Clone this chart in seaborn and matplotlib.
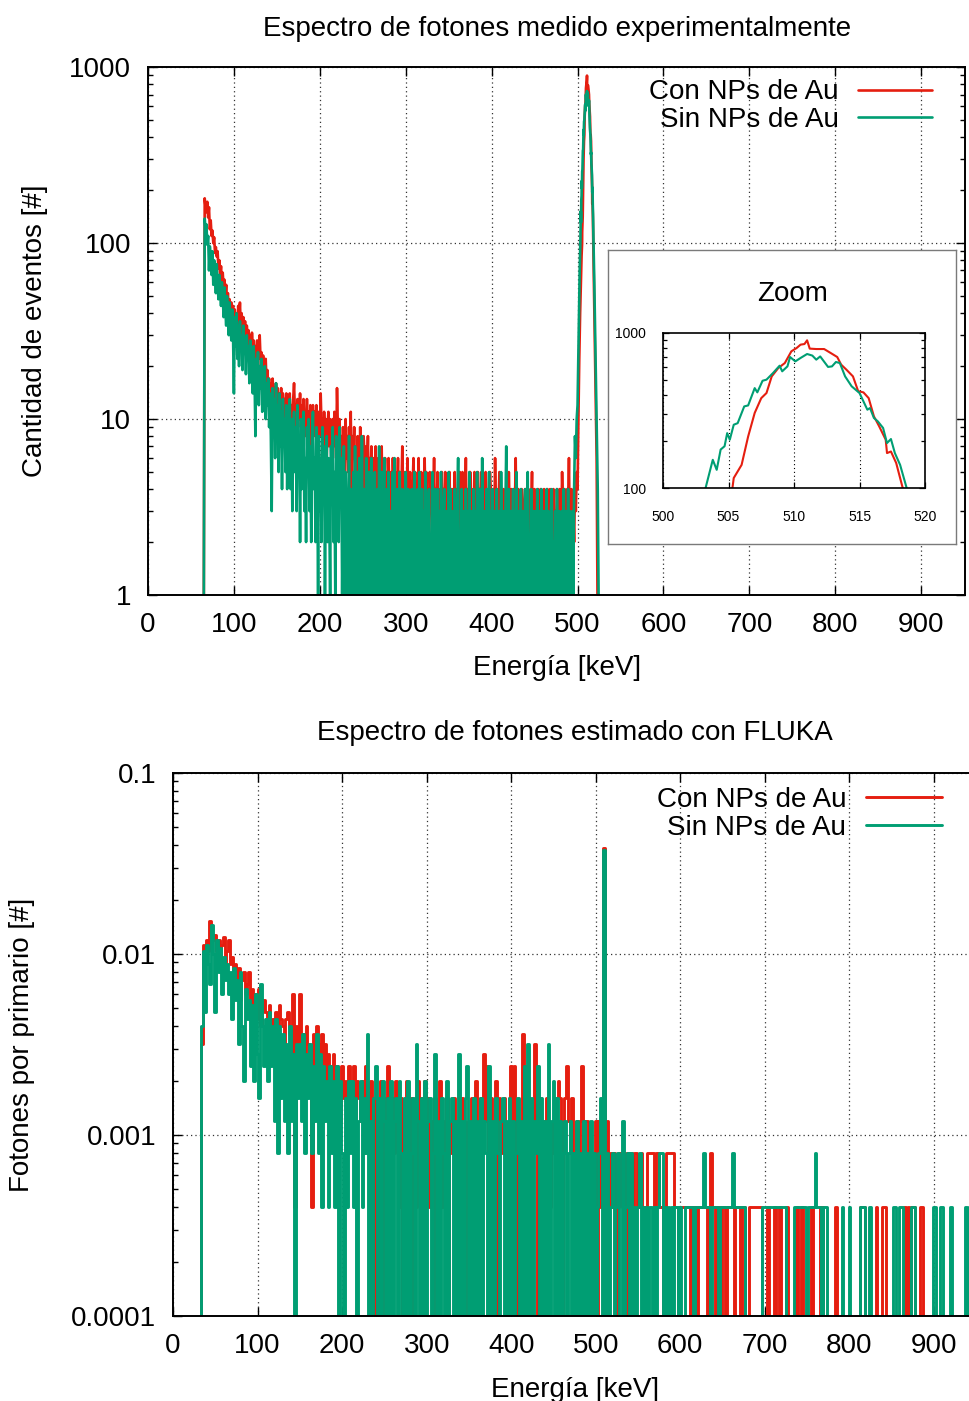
import numpy as np
import pandas as pd
import matplotlib
matplotlib.use("Agg")
import matplotlib.pyplot as plt
import seaborn as sns
from matplotlib.ticker import LogLocator, NullFormatter, NullLocator, FixedFormatter, FixedLocator

sns.set_style("white")
plt.rcParams["font.family"] = ["Liberation Sans", "DejaVu Sans"]
for k in ["text.color", "axes.labelcolor", "xtick.color", "ytick.color", "axes.edgecolor"]:
    plt.rcParams[k] = "black"

ROJO = "#e51e10"
VERDE = "#009e73"
ETQ_CON = "Con NPs de Au"
ETQ_SIN = "Sin NPs de Au"

# ---------------- Espectro experimental (cuentas, bins de 1 keV desde 65 keV) ----------------
exp_e_inicio = 65
exp_con = [
    1, 180, 160, 150, 172, 140, 160, 120, 135, 110,
    118, 100, 108, 88, 95, 84, 90, 72, 80, 66,
    74, 60, 68, 56, 62, 50, 58, 46, 52, 42,
    48, 40, 46, 36, 44, 34, 42, 32, 40, 30,
    44, 36, 46, 34, 40, 30, 38, 32, 36, 28,
    34, 30, 32, 26, 30, 24, 31, 26, 28, 22,
    26, 22, 28, 20, 25, 30, 22, 24, 19, 23,
    20, 18, 22, 16, 19, 15, 17, 14, 16, 12,
    17, 14, 15, 12, 16, 13, 15, 11, 14, 12,
    15, 10, 14, 12, 13, 9, 14, 11, 12, 10,
    14, 9, 12, 10, 13, 16, 11, 12, 9, 13,
    12, 10, 14, 9, 12, 8, 13, 10, 11, 8,
    13, 9, 11, 7, 12, 10, 9, 12, 8, 11,
    9, 12, 10, 7, 11, 8, 14, 9, 10, 7,
    11, 8, 10, 6, 9, 11, 7, 10, 8, 9,
    10, 7, 11, 8, 6, 15, 9, 7, 10, 6,
    8, 5, 9, 7, 4, 10, 6, 8, 5, 9,
    7, 11, 4, 8, 6, 9, 5, 7, 3, 8,
    6, 4, 9, 5, 7, 3, 8, 6, 4, 7,
    5, 8, 3, 6, 4, 7, 5, 2, 6, 4,
    7, 3, 5, 6, 2, 5, 4, 7, 3, 5,
    4, 6, 2, 5, 3, 6, 4, 2, 5, 3,
    6, 4, 3, 5, 2, 4, 6, 3, 5, 2,
    4, 7, 3, 5, 2, 4, 3, 6, 2, 4,
    5, 3, 2, 4, 6, 3, 5, 2, 4, 3,
    6, 2, 4, 5, 3, 2, 4, 6, 3, 5,
    3, 4, 2, 5, 3, 4, 2, 3, 6, 2,
    4, 3, 5, 2, 4, 3, 2, 5, 3, 4,
    2, 5, 3, 4, 2, 3, 5, 2, 4, 3,
    4, 2, 5, 3, 4, 2, 3, 4, 5, 2,
    3, 5, 2, 4, 3, 6, 2, 4, 3, 2,
    5, 3, 4, 2, 3, 5, 2, 4, 3, 5,
    2, 4, 3, 5, 2, 3, 4, 2, 5, 3,
    4, 2, 3, 5, 4, 2, 3, 4, 2, 6,
    3, 4, 2, 3, 5, 2, 4, 3, 2, 4,
    3, 2, 4, 3, 2, 5, 3, 2, 4, 3,
    2, 4, 3, 6, 2, 3, 4, 2, 3, 2,
    4, 3, 2, 3, 4, 2, 3, 2, 4, 3,
    2, 3, 5, 2, 3, 4, 2, 3, 2, 4,
    3, 2, 4, 3, 2, 3, 4, 2, 3, 2,
    4, 3, 2, 4, 3, 2, 3, 4, 2, 3,
    2, 4, 3, 2, 4, 3, 2, 5, 3, 2,
    4, 3, 2, 4, 3, 6, 2, 3, 4, 2,
    3, 2, 4, 3, 5,
]
exp_sin = [
    1, 138, 120, 128, 98, 110, 70, 96, 84, 66,
    90, 58, 80, 70, 52, 76, 60, 48, 66, 54,
    44, 60, 50, 38, 56, 42, 34, 50, 38, 30,
    46, 34, 28, 42, 30, 14, 38, 26, 40, 22,
    34, 20, 36, 26, 30, 19, 34, 24, 28, 18,
    30, 22, 26, 16, 28, 20, 24, 14, 26, 18,
    8, 22, 16, 24, 12, 20, 15, 22, 11, 18,
    14, 20, 10, 16, 12, 17, 9, 14, 8, 3,
    15, 10, 13, 6, 16, 9, 12, 5, 14, 7,
    11, 4, 13, 8, 10, 5, 12, 4, 9, 6,
    13, 4, 10, 3, 8, 11, 5, 9, 3, 12,
    6, 8, 2, 10, 4, 7, 11, 3, 6, 2,
    9, 5, 10, 3, 7, 2, 8, 11, 4, 6,
    2, 9, 5, 1, 8, 3, 6, 2, 9, 4,
    7, 1, 5, 8, 2, 6, 3, 1, 7, 4,
    9, 2, 5, 1, 8, 3, 6, 2, 9, 4,
    6, 1, 4, 7, 1, 5, 3, 1, 2, 8,
    1, 4, 2, 1, 5, 1, 7, 1, 3, 5,
    1, 6, 2, 1, 8, 1, 4, 3, 1, 6,
    2, 1, 5, 1, 3, 6, 1, 4, 1, 5,
    1, 3, 4, 1, 7, 2, 1, 5, 1, 3,
    6, 1, 2, 4, 1, 5, 1, 3, 2, 1,
    5, 1, 6, 2, 1, 4, 1, 3, 5, 1,
    2, 4, 1, 3, 1, 5, 2, 1, 4, 1,
    3, 1, 4, 2, 1, 5, 1, 3, 1, 4,
    1, 5, 2, 1, 4, 1, 3, 1, 5, 2,
    1, 3, 4, 1, 2, 1, 5, 1, 3, 4,
    1, 2, 4, 1, 3, 1, 5, 2, 1, 3,
    4, 1, 2, 3, 1, 5, 1, 4, 1, 2,
    3, 1, 4, 2, 1, 3, 6, 1, 2, 1,
    4, 1, 3, 2, 1, 4, 1, 3, 1, 5,
    1, 3, 2, 1, 4, 1, 3, 1, 5, 2,
    1, 4, 3, 1, 6, 1, 2, 3, 1, 4,
    1, 2, 5, 1, 3, 1, 4, 2, 1, 3,
    1, 4, 2, 1, 3, 1, 5, 2, 1, 3,
    1, 3, 7, 1, 2, 4, 1, 3, 1, 2,
    4, 1, 3, 1, 5, 2, 1, 3, 1, 4,
    1, 3, 2, 1, 4, 1, 3, 5, 1, 2,
    1, 4, 2, 1, 3, 1, 3, 1, 4, 2,
    1, 3, 1, 4, 2, 1, 3, 1, 2, 4,
    1, 3, 2, 1, 3, 4, 1, 2, 1, 3,
    1, 4, 2, 1, 3, 1, 2, 3, 1, 4,
    1, 3, 2, 1, 4, 1, 3, 1, 2, 3,
    1, 4, 8, 6, 10,
]
# pico de aniquilacion (511 keV), energias en keV y cuentas
pico_con_e = [500, 501, 502, 503, 504, 504.7, 505.3, 505.4, 506.0, 506.5,
              507.0, 507.5, 507.9, 508.3, 508.8, 509.3, 509.8, 510.2, 510.5, 510.8,
              511.0, 511.2, 511.7, 512.3, 512.8, 513.3, 513.6, 514.0, 514.5, 514.9,
              515.3, 515.7, 516.1, 516.5, 517.0, 517.1, 517.4, 517.8, 518.3, 519.2,
              520.2, 521.2, 522.2, 523.2]
pico_con = [4, 10, 22, 40, 62, 85, 100, 116, 141, 215,
            305, 380, 410, 525, 594, 640, 762, 800, 841, 849,
            897, 793, 788, 788, 743, 700, 625, 580, 525, 421,
            414, 380, 290, 250, 205, 168, 172, 145, 100, 55,
            25, 12, 6, 1]
pico_sin_e = [500, 501, 502, 502.5, 503, 503.25, 503.8, 504.1, 504.4, 504.7,
              504.9, 505.1, 505.4, 505.7, 506.2, 506.5, 507.0, 507.2, 507.6, 507.9,
              508.4, 508.9, 509.1, 509.5, 509.7, 510.1, 510.5, 511.0, 511.4, 511.7,
              512.0, 512.6, 512.9, 513.2, 513.5, 513.9, 514.4, 515.0, 515.6, 515.8,
              516.1, 516.4, 516.8, 517.1, 517.4, 517.7, 518.1, 518.6, 519.5, 520.5,
              521.5, 522.5, 523.5, 524.5]
pico_sin = [12, 25, 50, 70, 90, 100, 152, 131, 177, 186,
            226, 205, 256, 262, 336, 341, 441, 414, 492, 500,
            552, 615, 566, 609, 700, 656, 690, 732, 715, 673,
            706, 604, 609, 650, 640, 525, 453, 410, 320, 328,
            283, 269, 244, 195, 207, 168, 141, 100, 60, 30,
            14, 8, 4, 1]

# ---------------- Espectro FLUKA (cuentas; bins de 2 keV desde 30 keV) ----------------
fluka_e_inicio = 30
fluka_paso = 2
fluka_unidad = 4e-4  # fotones por primario por cuenta
fluka_con = [
    0, 0, 8, 28, 24, 30, 26, 38, 32, 30,
    32, 26, 30, 22, 28, 31, 20, 26, 30, 22,
    24, 18, 22, 16, 21, 14, 18, 20, 15, 17,
    20, 13, 16, 12, 15, 11, 16, 10, 12, 14,
    12, 9, 13, 10, 11, 8, 12, 9, 13, 11,
    10, 8, 11, 12, 9, 7, 15, 1, 10, 8,
    15, 7, 9, 6, 10, 8, 7, 1, 9, 6,
    10, 8, 7, 9, 6, 8, 5, 7, 6, 5,
    7, 4, 6, 5, 3, 6, 4, 5, 2, 6,
    4, 3, 6, 2, 5, 4, 3, 5, 2, 6,
    4, 2, 5, 3, 0, 4, 3, 2, 5, 0,
    2, 4, 6, 0, 3, 4, 2, 5, 3, 1,
    4, 0, 3, 5, 1, 3, 4, 0, 3, 1,
    5, 3, 4, 0, 5, 3, 4, 1, 3, 0,
    4, 2, 0, 5, 1, 3, 2, 4, 0, 3,
    2, 4, 3, 0, 3, 2, 4, 3, 0, 1,
    3, 0, 4, 1, 5, 3, 0, 4, 3, 7,
    3, 6, 0, 4, 1, 3, 5, 0, 4, 3,
    2, 4, 0, 1, 4, 6, 2, 6, 0, 2,
    3, 0, 9, 3, 2, 4, 0, 3, 2, 8,
    3, 0, 4, 1, 3, 2, 4, 0, 1, 2,
    3, 2, 4, 5, 4, 0, 2, 4, 6, 3,
    2, 4, 0, 2, 3, 1, 3, 6, 0, 3,
    3, 2, 0, 1, 2, 3, 0, 3, 1, 2,
    96, 2, 3, 1, 2, 1, 2, 0, 1, 2,
    2, 1, 2, 0, 2, 1, 2, 1, 2, 2,
    1, 1, 2, 0, 1, 1, 2, 2, 2, 2,
    1, 2, 2, 1, 1, 0, 1, 2, 2, 2,
    2, 2, 1, 1, 0, 1, 1, 1, 1, 1,
    1, 0, 1, 1, 1, 0, 1, 1, 1, 1,
    1, 0, 1, 2, 1, 1, 0, 1, 1, 0,
    1, 1, 0, 1, 1, 1, 1, 0, 1, 1,
    1, 0, 1, 1, 0, 0, 1, 1, 1, 1,
    1, 1, 1, 1, 0, 0, 0, 1, 0, 0,
    0, 1, 0, 0, 1, 0, 0, 0, 1, 0,
    0, 0, 0, 0, 1, 0, 0, 1, 0, 0,
    0, 0, 0, 1, 0, 0, 0, 0, 1, 1,
    0, 0, 0, 0, 0, 0, 0, 1, 0, 0,
    0, 0, 0, 0, 0, 0, 0, 0, 0, 0,
    0, 0, 1, 1, 1, 0, 0, 0, 0, 0,
    0, 1, 0, 0, 0, 1, 1, 0, 0, 0,
    0, 0, 0, 0, 0, 0, 0, 0, 1, 0,
    1, 0, 1, 1, 0, 0, 0, 1, 1, 0,
    0, 0, 0, 0, 0, 0, 0, 0, 0, 0,
    0, 0, 0, 0, 0, 0, 0, 0, 0, 0,
    0, 0, 0, 0, 0, 0, 0,
]
fluka_sin = [
    0, 0, 10, 26, 12, 28, 22, 17, 36, 25,
    12, 30, 20, 27, 15, 24, 18, 22, 15, 20,
    11, 21, 14, 18, 8, 20, 10, 5, 16, 11,
    14, 6, 13, 5, 15, 7, 4, 17, 10, 6,
    11, 5, 12, 6, 10, 3, 11, 2, 10, 4,
    9, 3, 8, 2, 10, 3, 7, 0, 8, 4,
    8, 3, 9, 2, 7, 4, 8, 2, 6, 3,
    9, 2, 7, 1, 6, 3, 5, 1, 6, 2,
    5, 1, 6, 0, 5, 2, 0, 4, 1, 5,
    2, 5, 1, 4, 0, 3, 5, 1, 4, 2,
    9, 0, 3, 0, 4, 6, 0, 4, 0, 5,
    3, 0, 4, 0, 5, 0, 3, 4, 0, 5,
    2, 0, 4, 0, 5, 0, 2, 4, 0, 8,
    3, 0, 4, 0, 5, 0, 3, 4, 0, 2,
    7, 0, 3, 0, 4, 2, 0, 5, 0, 3,
    4, 0, 3, 0, 7, 0, 3, 0, 4, 6,
    0, 3, 0, 4, 0, 3, 0, 4, 0, 3,
    2, 0, 6, 0, 3, 0, 4, 2, 0, 3,
    4, 0, 3, 0, 4, 0, 3, 0, 2, 4,
    0, 3, 0, 6, 0, 8, 0, 4, 0, 3,
    2, 6, 0, 4, 0, 3, 0, 8, 0, 3,
    5, 0, 4, 0, 3, 0, 2, 3, 0, 2,
    3, 0, 2, 0, 3, 0, 2, 0, 3, 0,
    2, 0, 3, 0, 2, 0, 1, 2, 4, 0,
    94, 0, 2, 0, 1, 2, 0, 1, 2, 0,
    0, 3, 0, 1, 2, 0, 2, 0, 1, 0,
    1, 2, 0, 1, 0, 1, 0, 1, 1, 0,
    1, 0, 1, 2, 2, 0, 1, 0, 1, 0,
    1, 0, 1, 1, 0, 1, 0, 0, 1, 1,
    1, 1, 1, 0, 1, 1, 1, 1, 1, 2,
    1, 1, 1, 0, 1, 1, 1, 1, 0, 1,
    1, 1, 1, 1, 1, 1, 2, 1, 1, 1,
    1, 1, 1, 1, 0, 0, 0, 0, 0, 0,
    0, 0, 0, 0, 1, 1, 1, 1, 1, 1,
    1, 1, 1, 1, 1, 1, 1, 1, 0, 0,
    0, 0, 0, 1, 1, 1, 1, 1, 1, 1,
    0, 1, 1, 1, 1, 2, 1, 1, 1, 0,
    1, 1, 0, 0, 0, 0, 0, 0, 0, 0,
    0, 1, 0, 0, 0, 1, 0, 0, 0, 0,
    0, 0, 1, 1, 1, 0, 0, 1, 0, 0,
    0, 0, 0, 0, 0, 0, 0, 0, 0, 0,
    0, 1, 1, 0, 0, 1, 1, 0, 0, 0,
    0, 0, 1, 1, 0, 0, 0, 0, 0, 0,
    0, 0, 0, 0, 0, 1, 1, 0, 0, 1,
    1, 0, 0, 0, 0, 1, 0, 0, 0, 0,
    0, 0, 0, 0, 1, 0, 1,
]

# ---------------- data frames ----------------
def serie_exp(cont, pe, pv, nombre):
    e = np.r_[exp_e_inicio + np.arange(len(cont)), pe]
    v = np.r_[cont, pv]
    return pd.DataFrame({"E": e, "N": v, "serie": nombre})

df_exp = pd.concat([serie_exp(exp_con, pico_con_e, pico_con, ETQ_CON),
                    serie_exp(exp_sin, pico_sin_e, pico_sin, ETQ_SIN)], ignore_index=True)
df_pico = pd.concat([pd.DataFrame({"E": pico_con_e, "N": pico_con, "serie": ETQ_CON}),
                     pd.DataFrame({"E": pico_sin_e, "N": pico_sin, "serie": ETQ_SIN})], ignore_index=True)

def serie_fluka(c, nombre):
    e = fluka_e_inicio + fluka_paso * np.arange(len(c))
    return pd.DataFrame({"E": e, "F": np.asarray(c) * fluka_unidad, "serie": nombre})

df_fl = pd.concat([serie_fluka(fluka_con, ETQ_CON), serie_fluka(fluka_sin, ETQ_SIN)], ignore_index=True)

W, H = 970, 1401
def fx(x): return x / W
def fy(y): return 1 - y / H

FS = 20
GRID = dict(color="#333333", linestyle=(0, (1, 2.5)), linewidth=0.9)

fig = plt.figure(figsize=(W / 100, H / 100), dpi=100)

def estilo(ax, right=True):
    for s in ax.spines.values():
        s.set_linewidth(1.4)
        s.set_color("black")
    ax.tick_params(which="both", direction="in", top=True, bottom=True, left=True, right=right,
                   labelsize=FS, width=1.0)
    ax.tick_params(which="major", length=6.5, pad=12)
    ax.tick_params(which="minor", length=3.5)
    ax.xaxis.set_minor_locator(NullLocator())
    ax.yaxis.set_minor_locator(LogLocator(base=10, subs=np.arange(2, 10)))
    ax.yaxis.set_minor_formatter(NullFormatter())
    ax.set_axisbelow(True)
    ax.grid(True, which="major", **GRID)

# ---------------- panel superior ----------------
ax1 = fig.add_axes([fx(148), fy(595), fx(965) - fx(148), fy(67.3) - fy(595)])
sns.lineplot(data=df_exp, x="E", y="N", hue="serie", hue_order=[ETQ_CON, ETQ_SIN],
             palette=[ROJO, VERDE], estimator=None, sort=False, errorbar=None,
             linewidth=1.9, legend=False, ax=ax1)
ax1.set_yscale("log", nonpositive="clip")
ax1.set_xlim(0, 951)
ax1.set_ylim(1, 1000)
ax1.set_xticks(np.arange(0, 901, 100))
ax1.yaxis.set_major_locator(FixedLocator([1, 10, 100, 1000]))
ax1.yaxis.set_major_formatter(FixedFormatter(["1", "10", "100", "1000"]))
estilo(ax1)
ax1.set_xlabel("")
ax1.set_ylabel("")
ax1.legend(handles=ax1.lines[:2], labels=[ETQ_CON, ETQ_SIN], loc="upper right",
           bbox_to_anchor=(0.9593, 0.977), frameon=False, markerfirst=False,
           handlelength=2.66, handletextpad=0.7, labelspacing=0.06,
           borderpad=0, borderaxespad=0, fontsize=FS)

# recuadro del zoom
caja = fig.add_axes([fx(608), fy(544), fx(956) - fx(608), fy(250) - fy(544)])
caja.set_xticks([])
caja.set_yticks([])
caja.set_facecolor("white")
for s in caja.spines.values():
    s.set_color("#7a7a7a")
    s.set_linewidth(1.0)
caja.text((793 - 608) / 348, 1 - (294 - 250) / 294, "Zoom", ha="center", va="center", fontsize=FS,
          transform=caja.transAxes)

axz = fig.add_axes([fx(663), fy(488), fx(925) - fx(663), fy(333) - fy(488)])
sns.lineplot(data=df_pico, x="E", y="N", hue="serie", hue_order=[ETQ_CON, ETQ_SIN],
             palette=[ROJO, VERDE], estimator=None, sort=False, errorbar=None,
             linewidth=1.5, legend=False, ax=axz)
axz.set_yscale("log", nonpositive="clip")
axz.set_xlim(500, 520)
axz.set_ylim(100, 1000)
axz.set_xticks([500, 505, 510, 515, 520])
axz.yaxis.set_major_locator(FixedLocator([100, 1000]))
axz.yaxis.set_major_formatter(FixedFormatter(["100", "1000"]))
axz.yaxis.set_minor_locator(LogLocator(base=10, subs=np.arange(2, 10)))
axz.yaxis.set_minor_formatter(NullFormatter())
axz.xaxis.set_minor_locator(NullLocator())
for s in axz.spines.values():
    s.set_linewidth(1.2)
    s.set_color("black")
axz.tick_params(which="both", direction="in", top=True, bottom=True, left=True, right=True,
                labelsize=10, width=0.9)
axz.tick_params(axis="x", which="major", length=4, pad=16)
axz.tick_params(axis="y", which="major", length=4, pad=12)
axz.tick_params(which="minor", length=3)
axz.set_axisbelow(True)
axz.grid(True, axis="x", which="major", color="black", linestyle=(0, (1, 2.5)), linewidth=0.8)
axz.set_xlabel("")
axz.set_ylabel("")

fig.text(fx(557), fy(29), "Espectro de fotones medido experimentalmente", ha="center", va="center", fontsize=FS)
fig.text(fx(557), fy(668), "Energía [keV]", ha="center", va="center", fontsize=FS)
fig.text(fx(35), fy(331), "Cantidad de eventos [#]", ha="center", va="center", rotation=90, fontsize=FS)

# ---------------- panel inferior ----------------
ax2 = fig.add_axes([fx(173), fy(1316), 1 - fx(173), fy(773) - fy(1316)])
sns.lineplot(data=df_fl, x="E", y="F", hue="serie", hue_order=[ETQ_CON, ETQ_SIN],
             palette=[ROJO, VERDE], estimator=None, sort=False, errorbar=None,
             linewidth=2.1, legend=False, drawstyle="steps-mid", ax=ax2)
ax2.set_yscale("log", nonpositive="clip")
ax2.set_xlim(0, (970 - 173) / 0.8455)
ax2.set_ylim(1e-4, 0.1)
ax2.set_xticks(np.arange(0, 901, 100))
ax2.yaxis.set_major_locator(FixedLocator([1e-4, 1e-3, 1e-2, 1e-1]))
ax2.yaxis.set_major_formatter(FixedFormatter(["0.0001", "0.001", "0.01", "0.1"]))
estilo(ax2, right=False)
ax2.spines["right"].set_visible(False)
ax2.set_xlabel("")
ax2.set_ylabel("")
ax2.legend(handles=ax2.lines[:2], labels=[ETQ_CON, ETQ_SIN], loc="upper right",
           bbox_to_anchor=(0.9649, 0.974), frameon=False, markerfirst=False,
           handlelength=2.75, handletextpad=0.7, labelspacing=0.06,
           borderpad=0, borderaxespad=0, fontsize=FS)

fig.text(fx(575), fy(733), "Espectro de fotones estimado con FLUKA", ha="center", va="center", fontsize=FS)
fig.text(fx(575), fy(1390), "Energía [keV]", ha="center", va="center", fontsize=FS)
fig.text(fx(22), fy(1045), "Fotones por primario [#]", ha="center", va="center", rotation=90, fontsize=FS)

fig.savefig("out.png", dpi=100)
